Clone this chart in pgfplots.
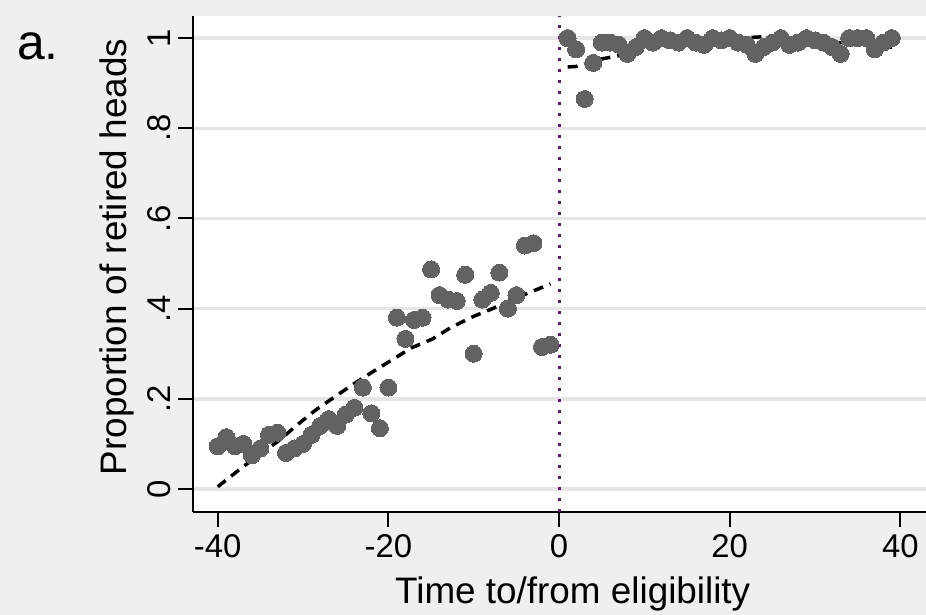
\documentclass[border=0pt]{standalone}
\usepackage{pgfplots}
\usepackage{pgfplotstable}
\pgfplotsset{compat=1.18}
\usepackage{fontspec}
\setmainfont{Liberation Sans}
\definecolor{bggray}{RGB}{239,239,239}
\definecolor{gridgray}{RGB}{229,229,229}
\definecolor{markgray}{RGB}{98,98,98}
\definecolor{vpurple}{RGB}{92,26,110}

\pgfplotstableread{
x y
-40 0.095
-39 0.115
-38 0.095
-37 0.100
-36 0.075
-35 0.090
-34 0.120
-33 0.125
-32 0.080
-31 0.090
-30 0.100
-29 0.120
-28 0.140
-27 0.155
-26 0.140
-25 0.165
-24 0.180
-23 0.225
-22 0.168
-21 0.135
-20 0.225
-19 0.380
-18 0.333
-17 0.375
-16 0.380
-15 0.487
-14 0.430
-13 0.420
-12 0.417
-11 0.475
-10 0.300
-9 0.420
-8 0.435
-7 0.480
-6 0.400
-5 0.430
-4 0.540
-3 0.545
-2 0.315
-1 0.320
1 1.000
2 0.975
3 0.865
4 0.945
5 0.990
6 0.990
7 0.985
8 0.965
9 0.980
10 1.000
11 0.990
12 1.000
13 0.995
14 0.990
15 1.000
16 0.990
17 0.985
18 1.000
19 0.995
20 1.000
21 0.990
22 0.985
23 0.965
24 0.980
25 0.990
26 1.000
27 0.985
28 0.990
29 1.000
30 0.995
31 0.990
32 0.980
33 0.965
34 1.000
35 1.000
36 1.000
37 0.975
38 0.990
39 1.000
}\points

\pgfplotstableread{
x y
-40 0.005
-37 0.050
-35 0.077
-33 0.105
-30.5 0.145
-28.6 0.174
-26.4 0.203
-24.3 0.230
-22 0.258
-19.7 0.285
-17.3 0.313
-14.8 0.333
-12.7 0.358
-10 0.383
-7.8 0.400
-5.5 0.420
-2.4 0.444
-1 0.455
}\fitleft

\pgfplotstableread{
x y
1 0.936
2 0.937
4.5 0.952
7.3 0.962
9.8 0.975
12.7 0.985
15.6 0.989
18.4 0.998
21 1.000
24 1.003
26.6 1.000
29.4 1.000
32.3 0.990
35 0.990
37.7 0.980
39 0.980
}\fitright

\begin{document}
\begin{tikzpicture}
\fill[bggray] (0,0) rectangle (926bp,615bp);
\begin{axis}[
  at={(193bp,103bp)}, anchor=south west,
  scale only axis, width=733bp, height=496bp,
  xmin=-42.9, xmax=43, ymin=-0.051, ymax=1.049,
  axis x line=bottom, axis y line=left,
  axis line style={-, line width=2bp, black},
  axis background/.style={fill=white},
  xtick={-40,-20,0,20,40}, xticklabels={-40,-20,0,20,40},
  ytick={0,0.2,0.4,0.6,0.8,1}, yticklabels={0,.2,.4,.6,.8,1},
  tick align=outside, major tick length=15bp,
  every tick/.style={line width=2bp, black},
  ymajorgrids, major grid style={gridgray, line width=3.5bp},
  ticklabel style={font=\fontsize{33}{36}\selectfont},
  yticklabel style={rotate=90, anchor=south, inner sep=2bp},
  yticklabel shift=5bp,
  xticklabel style={anchor=north, inner sep=2bp},
  xticklabel shift=5bp,
  xlabel={Time to/from eligibility}, ylabel={Proportion of retired heads},
  label style={font=\fontsize{37}{40}\selectfont},
  xlabel style={at={(axis description cs:0.518,-0.1835)}, anchor=base, inner sep=0pt},
  ylabel style={at={(axis description cs:-0.0914,0.514)}, anchor=base, inner sep=0pt},
]
\addplot[vpurple, line width=3bp, dash pattern=on 3bp off 8bp] coordinates {(0,-0.051) (0,1.049)};
\addplot[only marks, mark=*, mark size=8.5bp, mark options={fill=markgray, draw=markgray, line width=0pt}] table[x=x,y=y] {\points};
\addplot[black, line width=3.5bp, dash pattern=on 10bp off 7bp] table[x=x,y=y] {\fitleft};
\addplot[black, line width=3.5bp, dash pattern=on 10bp off 7bp] table[x=x,y=y] {\fitright};
\end{axis}
\node[anchor=base west, font=\fontsize{50}{54}\selectfont, inner sep=0pt] at (17bp,555bp) {a.};
\pgfresetboundingbox
\useasboundingbox (0,0) rectangle (926bp,615bp);
\end{tikzpicture}
\end{document}
